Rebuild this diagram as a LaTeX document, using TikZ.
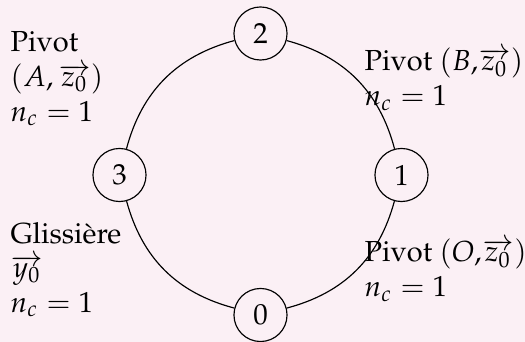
\documentclass[tikz,border=0pt]{standalone}
\usepackage[T1]{fontenc}
\usepackage{mathpazo}
\definecolor{bgpink}{RGB}{251,240,245}
\newcommand{\lines}[1]{\begin{tabular}[t]{@{}l@{}}#1\end{tabular}}
\tikzset{
  joint/.style={draw, circle, minimum size=18.3pt, inner sep=0pt, line width=0.4pt},
  lbl/.style={inner sep=0pt, anchor=base west},
  link/.style={draw, line width=0.4pt}
}
\begin{document}
\begin{tikzpicture}[x=0.34483pt, y=-0.34483pt]
  \fill[bgpink] (0,0) rectangle (525,342);
  \useasboundingbox (0,0) rectangle (525,342);
  \node[joint] (n2) at (260.5,33.5) {2};
  \node[joint] (n1) at (401.5,175) {1};
  \node[joint] (n0) at (260.5,315) {0};
  \node[joint] (n3) at (119.5,175) {3};
  \draw[link] (n2) to[bend left] (n1);
  \draw[link] (n1) to[bend left] (n0);
  \draw[link] (n0) to[bend left] (n3);
  \draw[link] (n3) to[bend left] (n2);
  \node[lbl] (l23) at (10,52) {\lines{Pivot\\$(A,\overrightarrow{z_0})$\\$n_c=1$}};
  \node[lbl] (l21) at (364,71) {\lines{Pivot $(B,\!\overrightarrow{z_0})$\\$n_c=1$}};
  \node[lbl] (l03) at (10,243) {\lines{Glissi\`ere\\$\overrightarrow{y_0}$\\$n_c=1$}};
  \node[lbl] (l01) at (364,262) {\lines{Pivot $(O,\!\overrightarrow{z_0})$\\$n_c=1$}};
\end{tikzpicture}
\end{document}
